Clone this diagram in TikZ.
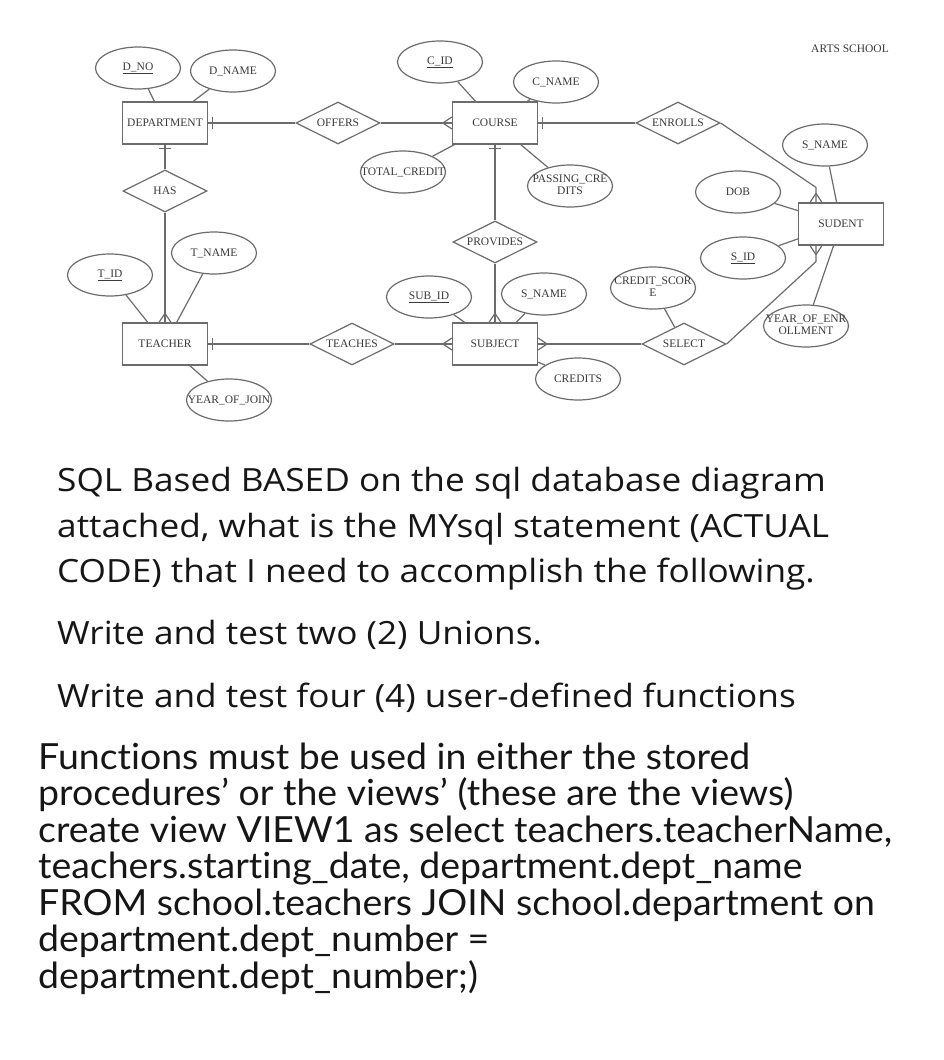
\documentclass[tikz,border=0pt]{standalone}
\usepackage{fontspec}
\setmainfont{Lato}[Ligatures=NoCommon]
\newfontfamily\erfont{Liberation Serif}
\newfontfamily\questionfont{Open Sans}[Ligatures=NoCommon,FakeStretch=1.1]
\newfontfamily\viewfont{Lato}[Ligatures=NoCommon,FakeStretch=1.04]
\usetikzlibrary{shapes}
\definecolor{linegray}{RGB}{108,108,108}
\definecolor{labelgray}{RGB}{58,58,58}
\definecolor{inkblack}{RGB}{22,22,22}

\tikzset{
  crowfoot/.pic={\draw[link] (-9,0) -- (0,6) (-9,0) -- (0,-6);},
  onebar/.pic={\draw[link] (-4,-6) -- (-4,6);}
}

\begin{document}
\begin{tikzpicture}[x=1pt,y=-1pt,
      every node/.style={font=\erfont\fontsize{11.5}{12}\selectfont,text=labelgray},
      entity/.style={rectangle,draw=linegray,line width=1.2pt,minimum width=85pt,minimum height=42pt,inner sep=0pt},
      attr/.style={ellipse,draw=linegray,line width=1.2pt,minimum width=85pt,minimum height=42pt,inner sep=0pt,
        execute at begin node={\hbox to 0pt\bgroup\hss},execute at end node={\hss\egroup}},
      rel/.style={diamond,draw=linegray,line width=1.2pt,minimum width=84pt,minimum height=42pt,inner sep=0pt,
        execute at begin node={\hbox to 0pt\bgroup\hss},execute at end node={\hss\egroup}},
      link/.style={draw=linegray,line width=1.2pt},
      question/.style={font=\questionfont\fontsize{32}{38}\selectfont,text=inkblack,anchor=base west,inner sep=0pt},
      viewtext/.style={font=\viewfont\fontsize{36}{40}\selectfont,text=inkblack,anchor=base west,inner sep=0pt}]
    \fill[white] (0,0) rectangle (944,1060);
    \useasboundingbox (0,0) rectangle (944,1060);

    % entities
    \node[entity] (dept) at (165,123) {DEPARTMENT};
    \node[entity] (course) at (495,123) {COURSE};
    \node[entity] (sud) at (841,224) {SUDENT};
    \node[entity] (teacher) at (165,344) {TEACHER};
    \node[entity] (subj) at (495,344) {SUBJECT};

    % relationships
    \node[rel] (offers) at (338,123) {OFFERS};
    \node[rel] (enrolls) at (678,123) {ENROLLS};
    \node[rel] (has) at (165,191) {HAS};
    \node[rel] (provides) at (495,242) {PROVIDES};
    \node[rel] (teaches) at (352,344) {TEACHES};
    \node[rel] (select) at (684,344) {SELECT};

    % attributes
    \node[attr] (dno) at (138,68) {\underline{D\_NO}};
    \node[attr] (dname) at (233,71) {D\_NAME};
    \node[attr] (cid) at (440,62) {\underline{C\_ID}};
    \node[attr] (cname) at (556,82) {C\_NAME};
    \node[attr] (totcredit) at (403,172) {TOTAL\_CREDIT};
    \node[attr] (passcredits) at (570,186) {\begin{tabular}{@{}c@{}}PASSING\_CRE\\DITS\end{tabular}};
    \node[attr] (sname) at (825,145) {S\_NAME};
    \node[attr] (dob) at (738,192) {DOB};
    \node[attr] (sid) at (743,258) {\underline{S\_ID}};
    \node[attr] (yearenr) at (806,326) {\begin{tabular}{@{}c@{}}YEAR\_OF\_ENR\\OLLMENT\end{tabular}};
    \node[attr] (tid) at (110,275) {\underline{T\_ID}};
    \node[attr] (tname) at (214,253) {T\_NAME};
    \node[attr] (yearjoin) at (229,400) {YEAR\_OF\_JOIN};
    \node[attr] (subid) at (429,297) {\underline{SUB\_ID}};
    \node[attr] (subname) at (544,294) {S\_NAME};
    \node[attr] (credits) at (578,379) {CREDITS};
    \node[attr] (creditscore) at (653,288) {\begin{tabular}{@{}c@{}}CREDIT\_SCOR\\E\end{tabular}};

    \node (school) at (850,49) {ARTS SCHOOL};

    % attribute links
    \draw[link] (dno) -- (dept);
    \draw[link] (dname) -- (dept);
    \draw[link] (cid) -- (course);
    \draw[link] (cname) -- (course);
    \draw[link] (totcredit) -- (course);
    \draw[link] (passcredits) -- (course);
    \draw[link] (sname) -- (sud);
    \draw[link] (dob) -- (sud);
    \draw[link] (sid) -- (sud);
    \draw[link] (yearenr) -- (sud);
    \draw[link] (tid) -- (teacher);
    \draw[link] (tname) -- (teacher);
    \draw[link] (yearjoin) -- (teacher);
    \draw[link] (subid) -- (subj);
    \draw[link] (subname) -- (subj);
    \draw[link] (credits) -- (subj);
    \draw[link] (creditscore) -- (select);

    % relationship links
    \coordinate (sudtop) at ([xshift=-25pt]sud.north);
    \coordinate (sudbot) at ([xshift=-25pt]sud.south);
    \draw[link] (dept.east) -- (offers.west);
    \draw[link] (offers.east) -- (course.west);
    \draw[link] (course.east) -- (enrolls.west);
    \draw[link] (enrolls.east) -- ([yshift=15pt]sudtop) -- (sudtop);
    \draw[link] (dept.south) -- (has.north);
    \draw[link] (has.south) -- (teacher.north);
    \draw[link] (course.south) -- (provides.north);
    \draw[link] (provides.south) -- (subj.north);
    \draw[link] (teacher.east) -- (teaches.west);
    \draw[link] (teaches.east) -- (subj.west);
    \draw[link] (subj.east) -- (select.west);
    \draw[link] (select.east) -- ([yshift=-16pt]sudbot) -- (sudbot);

    % cardinality marks
    \path (dept.east) pic[rotate=180] {onebar};
    \path (dept.south) pic[rotate=90] {onebar};
    \path (course.west) pic {crowfoot};
    \path (course.east) pic[rotate=180] {onebar};
    \path (course.south) pic[rotate=90] {onebar};
    \path (sudtop) pic[rotate=-90] {crowfoot};
    \path (sudbot) pic[rotate=90] {crowfoot};
    \path (teacher.north) pic[rotate=-90] {crowfoot};
    \path (teacher.east) pic[rotate=180] {onebar};
    \path (subj.west) pic {crowfoot};
    \path (subj.north) pic[rotate=-90] {crowfoot};
    \path (subj.east) pic[rotate=180] {crowfoot};

    % question text
    \node[question] (q1) at (57,491) {SQL Based BASED on the sql database diagram};
    \node[question] (q2) at (57,537) {attached, what is the MYsql statement (ACTUAL};
    \node[question] (q3) at (57,582) {CODE) that I need to accomplish the following.};
    \node[question] (q4) at (57,644) {Write and test two (2) Unions.};
    \node[question] (q5) at (57,707) {Write and test four (4) user-defined functions};
    \node[viewtext] (v1) at (38,769) {Functions must be used in either the stored};
    \node[viewtext] (v2) at (38,805.5) {procedures’ or the views’ (these are the views)};
    \node[viewtext] (v3) at (38,842) {create view VIEW1 as select teachers.teacherName,};
    \node[viewtext] (v4) at (38,878.5) {teachers.starting\_date, department.dept\_name};
    \node[viewtext] (v5) at (38,915) {FROM school.teachers JOIN school.department on};
    \node[viewtext] (v6) at (38,951.5) {department.dept\_number =};
    \node[viewtext] (v7) at (38,988) {department.dept\_number;)};
  \end{tikzpicture}
\end{document}
